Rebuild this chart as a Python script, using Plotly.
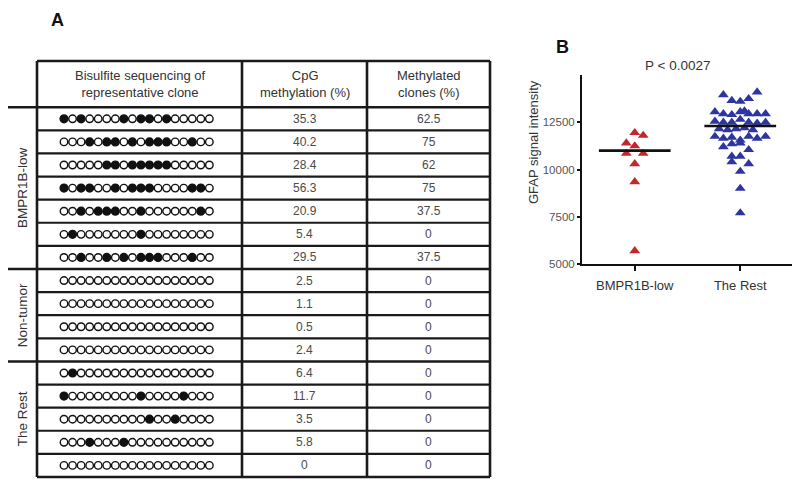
import plotly.graph_objects as go

# ---------------- DATA ----------------
clone_patterns = [
    "101000010110100000",
    "000101101011100100",
    "000001101111100000",
    "101100101110000110",
    "001011100100000010",
    "010000000100000000",
    "001001010111000100",
    "000000000000000000",
    "000000000000000000",
    "000000000000000000",
    "000000000000000000",
    "010000000000000000",
    "100000000100001000",
    "000000000010010000",
    "000100010000000000",
    "000000000000000000",
]
cpg_methylation = ["35.3", "40.2", "28.4", "56.3", "20.9", "5.4", "29.5",
                   "2.5", "1.1", "0.5", "2.4",
                   "6.4", "11.7", "3.5", "5.8", "0"]
methylated_clones = ["62.5", "75", "62", "75", "37.5", "0", "37.5",
                     "0", "0", "0", "0",
                     "0", "0", "0", "0", "0"]
group_names = ["BMPR1B-low", "Non-tumor", "The Rest"]
group_sizes = [7, 4, 5]
headers = ["Bisulfite sequencing of<br>representative clone",
           "CpG<br>methylation (%)", "Methylated<br>clones (%)"]

categories = ["BMPR1B-low", "The Rest"]
low_offsets = [0, 1, -1, 0, -1, 1, 0, 0, 0]
low_values = [11950, 11800, 11400, 11250, 10850, 10850, 10300, 9350, 5700]
rest_offsets = [-2, -1, 0, 1, 2,
                -3, -2, -1, 0, 1, 2, 3, 0.5,
                -3, -2, -1, 0, 1, 2, 3,
                -2.5, -1.5, -0.5, 0.5, 1.5,
                -3, -2, -1, 0, 1, 2, 3,
                -2, 0, 1, -1,
                -1, 0,
                -1, 1,
                0, 0, 0]
rest_values = [13950, 13650, 13600, 13750, 14100,
               13050, 12950, 12900, 13050, 12950, 12950, 12950, 13100,
               12550, 12500, 12500, 12650, 12500, 12450, 12500,
               12150, 12100, 12150, 12200, 12100,
               11750, 11650, 11700, 11550, 11750, 11650, 11750,
               11200, 11400, 11050, 11350,
               10700, 10700,
               10400, 10300,
               9900, 9000, 7700]
medians = [11000, 12300]
y_ticks = [5000, 7500, 10000, 12500]
y_tick_labels = ["5000", "7500", "10000", "12500"]

# ---------------- LAYOUT CONSTANTS ----------------
W, H = 800, 487
OFF = 8  # page body margin offset
FONT = "Liberation Sans, Arial, sans-serif"
TOP_PX, ROW_PX = 61, 23.11
LINE = "#1a1a1a"
col_edges = [37, 242, 367, 490]
dot_x0, dot_dx = 64, 8.55
jit = 0.08

def px(x):
    return (x - OFF) / W

def py(y):
    return 1 - (y - OFF) / H

fig = go.Figure()

# ---- Panel A: table drawn on hidden axes (x2 in px, y2 in row units) ----
fx, fy, ex, ey = [], [], [], []
for i, pat in enumerate(clone_patterns):
    for j, c in enumerate(pat):
        x = dot_x0 + j * dot_dx
        if c == "1":
            fx.append(x); fy.append(i)
        else:
            ex.append(x); ey.append(i)
fig.add_trace(go.Scatter(x=ex, y=ey, xaxis="x2", yaxis="y2", mode="markers",
                         marker=dict(symbol="circle", size=7.5, color="white",
                                     line=dict(color="#111", width=1.4)),
                         hoverinfo="skip", showlegend=False))
fig.add_trace(go.Scatter(x=fx, y=fy, xaxis="x2", yaxis="y2", mode="markers",
                         marker=dict(symbol="circle", size=7.8, color="#111",
                                     line=dict(color="#111", width=1.4)),
                         hoverinfo="skip", showlegend=False))

shapes = []
n = len(clone_patterns)
def hline(y, x0, x1, w=2.3):
    shapes.append(dict(type="line", xref="x2", yref="y2", x0=x0, x1=x1, y0=y, y1=y,
                       line=dict(color=LINE, width=w)))
hline(-2.5, col_edges[0], col_edges[-1], 2.6)
hline(-0.5, 8, col_edges[-1], 2.6)
bounds = []
acc = 0
for s in group_sizes:
    acc += s
    bounds.append(acc - 0.5)
for i in range(n - 1):
    y = i + 0.5
    if y in bounds:
        hline(y, 8, col_edges[-1], 2.4)
    else:
        hline(y, col_edges[0], col_edges[-1], 2.2)
hline(n - 0.5, col_edges[0], col_edges[-1], 2.6)
for xe in col_edges:
    shapes.append(dict(type="line", xref="x2", yref="y2", x0=xe, x1=xe, y0=-2.5, y1=n - 0.5,
                       line=dict(color=LINE, width=2.6)))

annotations = []
txt = "#333"
C = dict(xanchor="center", yanchor="middle", showarrow=False)
for k, h in enumerate(headers):
    annotations.append(dict(xref="x2", yref="y2", x=(col_edges[k] + col_edges[k + 1]) / 2, y=-1.5,
                            text=h, font=dict(family=FONT, size=13, color=txt), **C))
for i in range(n):
    annotations.append(dict(xref="x2", yref="y2", x=(col_edges[1] + col_edges[2]) / 2, y=i,
                            text=cpg_methylation[i],
                            font=dict(family=FONT, size=12, color="#4a4a4a"), **C))
    annotations.append(dict(xref="x2", yref="y2", x=(col_edges[2] + col_edges[3]) / 2, y=i,
                            text=methylated_clones[i],
                            font=dict(family=FONT, size=12, color="#4a4a4a"), **C))
start = 0
for name, s in zip(group_names, group_sizes):
    annotations.append(dict(xref="x2", yref="y2", x=22, y=start - 0.5 + s / 2,
                            text=name, textangle=-90,
                            font=dict(family=FONT, size=13.5, color=txt), **C))
    start += s

# ---- Panel B: scatter ----
fig.add_trace(go.Scatter(x=[0 + o * jit for o in low_offsets], y=low_values, mode="markers",
                         marker=dict(symbol="triangle-up", size=9.5, color="#c3262b"),
                         cliponaxis=False, showlegend=False))
fig.add_trace(go.Scatter(x=[1 + o * jit for o in rest_offsets], y=rest_values, mode="markers",
                         marker=dict(symbol="triangle-up", size=9.5, color="#2e35a0"),
                         cliponaxis=False, showlegend=False))
for k, m in enumerate(medians):
    fig.add_trace(go.Scatter(x=[k - 0.34, k + 0.34], y=[m, m], mode="lines",
                             line=dict(color="#111", width=2.6), showlegend=False,
                             hoverinfo="skip"))

annotations += [
    dict(xref="paper", yref="paper", x=px(57), y=py(20), text="<b>A</b>",
         font=dict(family=FONT, size=18, color="#111"), **C),
    dict(xref="paper", yref="paper", x=px(562), y=py(47), text="<b>B</b>",
         font=dict(family=FONT, size=18, color="#111"), **C),
    dict(xref="paper", yref="paper", x=px(677), y=py(65), text="P < 0.0027",
         font=dict(family=FONT, size=13.5, color="#333"), **C),
    dict(xref="paper", yref="paper", x=px(534), y=py(142), text="GFAP signal intensity",
         textangle=-90, font=dict(family=FONT, size=13, color="#333"), **C),
]

y2_top = -2.5 - (TOP_PX - OFF) / ROW_PX
y2_bot = y2_top + H / ROW_PX

fig.update_layout(
    width=W, height=H, margin=dict(l=0, r=0, t=0, b=0, pad=0, autoexpand=False),
    paper_bgcolor="white", plot_bgcolor="white",
    shapes=shapes, annotations=annotations,
    xaxis=dict(domain=[px(582), px(793)], range=[-0.5, 1.5], tickvals=[0, 1], ticktext=categories,
               showgrid=False, zeroline=False, showline=True, linecolor="#111", linewidth=2,
               ticks="outside", ticklen=5, tickwidth=1.5, tickcolor="#111",
               ticklabelstandoff=3, automargin=False, anchor="y",
               tickfont=dict(family=FONT, size=13, color="#333")),
    yaxis=dict(domain=[py(264), py(75)], range=[5000, 15000], tickvals=y_ticks,
               ticktext=y_tick_labels, anchor="x",
               showgrid=False, zeroline=False, showline=True, linecolor="#111", linewidth=2,
               ticks="outside", ticklen=3, tickwidth=1.5, tickcolor="#111", automargin=False,
               tickfont=dict(family=FONT, size=11.5, color="#555")),
    xaxis2=dict(domain=[0, 500 / W], range=[OFF, 500 + OFF], visible=False, automargin=False,
                anchor="y2"),
    yaxis2=dict(domain=[0, 1], range=[y2_bot, y2_top], visible=False, automargin=False,
                anchor="x2"),
)

fig.write_html("out.html")
